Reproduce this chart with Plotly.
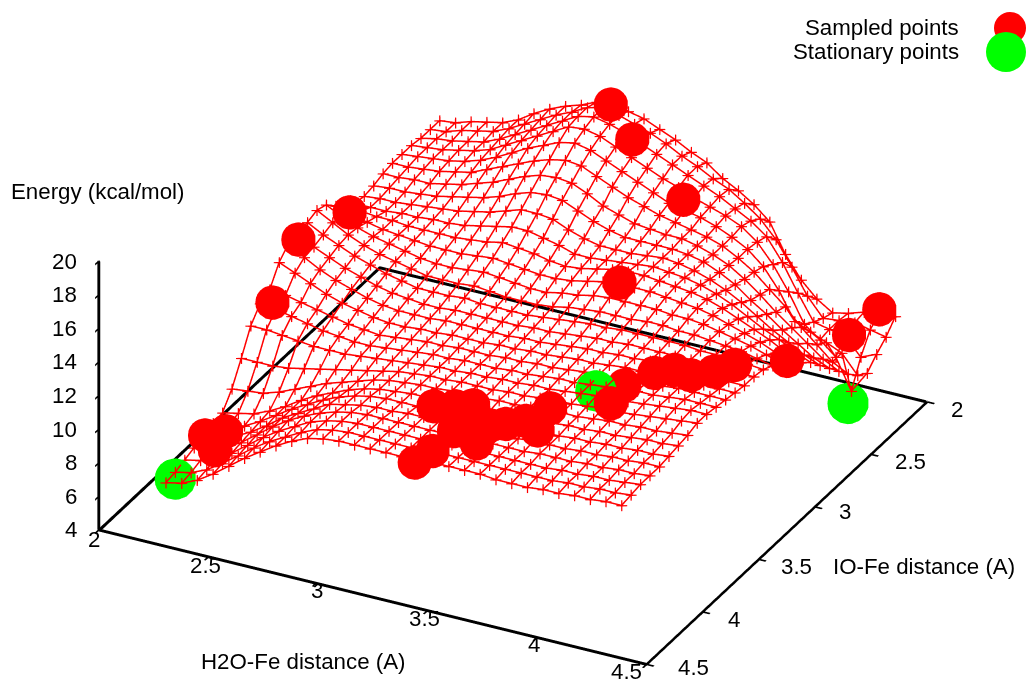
import plotly.graph_objects as go

grid_x = [2.28,2.352,2.423,2.495,2.567,2.639,2.710,2.782,2.854,2.926,2.997,3.069,3.141,3.212,3.284,3.356,3.428,3.499,3.571,3.643,3.714,3.786,3.858,3.930,4.001,4.073,4.145,4.217,4.288,4.36]
grid_y = [4.45,4.366,4.282,4.198,4.113,4.029,3.945,3.861,3.777,3.693,3.609,3.524,3.440,3.356,3.272,3.188,3.104,3.020,2.936,2.851,2.767,2.683,2.599,2.515,2.431,2.347,2.262,2.178,2.094,2.01]
energy = [
[7.4,7.6,8.0,8.6,9.3,10.0,10.6,11.2,11.7,12.1,12.3,12.4,12.4,12.4,12.4,12.4,12.4,12.5,12.5,12.5,12.5,12.4,12.4,12.4,12.5,12.5,12.6,12.6,12.7,12.7],
[7.5,7.7,8.1,8.7,9.4,10.1,10.7,11.2,11.7,12.1,12.3,12.4,12.4,12.4,12.4,12.4,12.4,12.5,12.5,12.5,12.5,12.5,12.5,12.5,12.5,12.6,12.6,12.7,12.7,12.8],
[7.7,7.9,8.3,8.8,9.5,10.2,10.8,11.3,11.8,12.1,12.3,12.4,12.4,12.4,12.4,12.4,12.4,12.5,12.5,12.5,12.5,12.5,12.5,12.5,12.6,12.6,12.7,12.7,12.8,12.9],
[7.9,8.1,8.4,8.9,9.6,10.3,10.9,11.4,11.8,12.1,12.3,12.4,12.4,12.4,12.4,12.4,12.4,12.5,12.5,12.5,12.5,12.5,12.6,12.6,12.6,12.7,12.7,12.8,12.8,12.9],
[8.1,8.2,8.5,9.0,9.6,10.3,10.8,11.3,11.8,12.0,12.2,12.3,12.3,12.4,12.4,12.4,12.4,12.4,12.5,12.5,12.5,12.6,12.6,12.6,12.7,12.7,12.8,12.8,12.9,12.9],
[8.3,8.4,8.6,9.1,9.7,10.3,10.8,11.3,11.7,12.0,12.2,12.3,12.3,12.3,12.4,12.4,12.4,12.4,12.5,12.5,12.5,12.6,12.6,12.7,12.7,12.8,12.8,12.9,12.9,13.0],
[8.4,8.6,8.8,9.2,9.7,10.3,10.8,11.2,11.6,11.9,12.1,12.2,12.3,12.3,12.4,12.4,12.4,12.4,12.5,12.5,12.6,12.6,12.7,12.7,12.8,12.8,12.9,13.0,13.0,13.1],
[9.3,9.4,9.5,9.8,10.2,10.6,11.0,11.3,11.6,11.9,12.1,12.2,12.3,12.3,12.4,12.4,12.4,12.5,12.5,12.6,12.6,12.7,12.7,12.8,12.9,12.9,13.0,13.0,13.1,13.2],
[10.6,10.6,10.6,10.7,10.9,11.1,11.3,11.5,11.7,11.9,12.1,12.2,12.3,12.3,12.4,12.4,12.4,12.5,12.5,12.6,12.7,12.7,12.8,12.9,12.9,13.0,13.1,13.2,13.3,13.4],
[12.0,12.0,11.9,11.8,11.7,11.7,11.7,11.8,11.9,12.0,12.1,12.2,12.3,12.3,12.4,12.4,12.5,12.5,12.6,12.6,12.7,12.8,12.9,12.9,13.0,13.1,13.2,13.3,13.4,13.4],
[12.8,12.7,12.5,12.3,12.1,12.0,11.9,11.9,12.0,12.1,12.2,12.3,12.3,12.4,12.4,12.4,12.5,12.5,12.6,12.7,12.7,12.8,12.9,13.0,13.1,13.1,13.2,13.3,13.3,13.3],
[13.1,13.0,12.8,12.6,12.4,12.2,12.1,12.0,12.1,12.2,12.3,12.3,12.4,12.4,12.4,12.5,12.5,12.6,12.6,12.7,12.8,12.9,12.9,13.0,13.1,13.1,13.2,13.2,13.2,13.2],
[14.2,13.8,13.4,13.0,12.7,12.5,12.3,12.2,12.2,12.3,12.3,12.4,12.4,12.4,12.5,12.5,12.6,12.6,12.7,12.8,12.8,12.9,13.0,13.0,13.1,13.1,13.1,13.1,13.1,13.1],
[14.8,14.2,13.7,13.3,13.0,12.7,12.5,12.4,12.4,12.4,12.5,12.5,12.5,12.5,12.5,12.6,12.6,12.7,12.8,12.9,12.9,13.0,13.0,13.1,13.1,13.1,13.1,13.1,13.0,13.0],
[14.8,14.3,13.9,13.5,13.2,12.9,12.7,12.6,12.5,12.5,12.6,12.6,12.6,12.6,12.6,12.7,12.7,12.8,12.9,13.0,13.0,13.1,13.1,13.1,13.1,13.1,13.1,13.1,13.0,13.0],
[15.0,14.5,14.1,13.7,13.4,13.1,12.9,12.7,12.7,12.7,12.8,12.7,12.7,12.7,12.7,12.8,12.9,13.0,13.1,13.1,13.2,13.2,13.2,13.2,13.2,13.1,13.1,13.0,13.0,12.9],
[15.2,14.7,14.2,13.8,13.5,13.3,13.1,12.9,12.9,12.9,13.0,12.9,12.8,12.8,12.8,12.9,13.1,13.2,13.3,13.3,13.3,13.4,13.4,13.3,13.3,13.2,13.1,13.0,12.8,12.6],
[15.0,14.5,14.1,13.8,13.6,13.4,13.2,13.1,13.1,13.2,13.3,13.2,13.1,13.0,13.0,13.2,13.3,13.5,13.6,13.6,13.6,13.6,13.5,13.5,13.4,13.2,13.0,12.8,12.5,12.2],
[14.4,14.1,13.9,13.7,13.6,13.5,13.4,13.4,13.4,13.5,13.6,13.5,13.4,13.3,13.3,13.4,13.6,13.8,13.9,13.9,13.9,13.8,13.7,13.6,13.4,13.1,12.8,12.5,12.1,11.7],
[13.9,13.8,13.7,13.7,13.6,13.6,13.6,13.6,13.7,13.8,14.0,13.9,13.8,13.6,13.5,13.6,13.8,14.0,14.1,14.1,14.0,13.9,13.8,13.6,13.3,12.9,12.5,12.1,11.6,11.2],
[13.5,13.5,13.5,13.6,13.6,13.7,13.7,13.8,14.0,14.2,14.4,14.4,14.2,14.0,13.7,13.7,13.8,13.9,14.0,14.1,14.0,13.9,13.7,13.4,13.0,12.5,12.0,11.6,11.1,10.7],
[13.4,13.5,13.5,13.6,13.7,13.8,13.9,14.1,14.3,14.6,14.9,14.9,14.8,14.4,14.1,13.9,13.9,13.9,14.0,14.1,14.0,13.8,13.5,13.1,12.6,12.0,11.4,10.9,10.4,10.0],
[13.5,13.6,13.6,13.7,13.8,14.0,14.2,14.4,14.7,15.1,15.4,15.5,15.4,15.0,14.6,14.3,14.1,14.1,14.1,14.1,14.0,13.8,13.4,12.9,12.2,11.6,10.9,10.3,9.7,9.3],
[13.7,13.7,13.8,13.8,14.0,14.2,14.5,14.8,15.2,15.6,15.9,16.0,15.9,15.5,15.0,14.7,14.4,14.3,14.2,14.2,14.0,13.7,13.3,12.7,12.0,11.2,10.5,9.8,9.1,8.6],
[13.8,13.8,13.9,14.0,14.2,14.4,14.8,15.2,15.6,16.0,16.3,16.5,16.4,16.0,15.6,15.2,14.9,14.6,14.4,14.2,14.0,13.7,13.2,12.6,11.8,11.0,10.0,9.2,8.4,7.9],
[13.8,13.9,14.0,14.1,14.3,14.6,15.0,15.5,16.0,16.4,16.8,17.0,16.8,16.4,16.0,15.6,15.2,14.8,14.6,14.4,14.1,13.7,13.2,12.4,11.2,9.6,9.2,8.8,8.4,7.3],
[13.8,13.9,14.0,14.2,14.4,14.7,15.2,15.7,16.2,16.7,17.2,17.3,17.1,16.7,16.3,15.9,15.5,15.2,14.8,14.5,14.2,13.8,13.1,12.0,10.6,8.9,8.2,7.4,5.6,6.9],
[13.7,13.9,14.0,14.2,14.4,14.8,15.3,15.8,16.3,16.8,17.3,17.5,17.3,17.0,16.6,16.2,15.8,15.4,15.0,14.6,14.1,13.6,12.9,11.6,10.0,8.5,8.3,8.1,7.1,7.5],
[13.7,13.8,14.1,14.3,14.5,14.9,15.4,15.9,16.4,16.8,17.3,17.5,17.3,17.0,16.7,16.3,15.8,15.4,14.9,14.5,13.9,13.2,12.2,10.8,9.3,8.2,8.3,8.4,8.2,8.0],
[13.7,13.8,14.1,14.3,14.5,14.9,15.5,16.0,16.4,16.7,17.1,17.4,17.0,16.8,16.4,16.0,15.5,15.1,14.4,13.9,13.3,12.5,10.8,9.5,8.6,8.0,8.2,8.5,8.7,8.7],
]
red_x = [3.43,3.45,3.28,3.36,3.42,3.45,3.45,3.58,3.56,3.61,3.67,3.75,3.71,3.91,3.89,3.95,4.01,4.09,4.16,4.21,4.35,4.28,4.29,3.58,3.26,3.08,3.54,2.31,2.39,2.33,2.34,2.40,2.40]
red_y = [4.48,4.36,4.02,3.98,3.94,4.10,4.17,4.22,4.06,4.02,3.96,4.01,3.82,3.67,3.51,3.36,3.30,3.31,3.24,3.15,2.96,2.27,2.02,2.38,2.21,2.05,2.87,3.33,3.03,3.60,4.22,4.15,4.25]
red_z = [12.5,12.5,12.5,12.5,12.5,12.5,12.5,12.5,12.5,12.5,12.5,12.5,12.5,12.5,12.5,12.5,12.5,12.5,12.5,12.5,12.0,9,9,15.5,17,17.5,13.5,15,15,13,9,9,8.5]
green_x = [2.27,3.80,4.28]
green_y = [4.35,3.59,2.28]
green_z = [7,12.4,5]
x_ticks = [2,2.5,3,3.5,4,4.5]
z_ticks = [4,6,8,10,12,14,16,18,20]
x_tick_text = ['2','2.5','3','3.5','4','4.5']
floor_x = [2.004,2.004,4.496]
floor_y = [4.496,2.004,2.004]
floor_z = [4.02,4.02,4.02]

mx,my,mz=[],[],[]
for j,row in enumerate(energy):
    mx+=grid_x+[None]; my+=[grid_y[j]]*30+[None]; mz+=row+[None]
for i in range(30):
    mx+=[grid_x[i]]*30+[None]; my+=grid_y+[None]; mz+=[r[i] for r in energy]+[None]

S=1.805
fig = go.Figure()
fig.add_trace(go.Scatter3d(x=green_x,y=green_y,z=green_z,mode='markers',marker=dict(size=24,color='#00ff00',line=dict(width=0)),showlegend=False))
fig.add_trace(go.Scatter3d(x=mx,y=my,z=mz,mode='lines+markers',line=dict(color='#ff0000',width=3),marker=dict(symbol='cross',size=6,color='#ff0000',line=dict(width=0)),showlegend=False))
fig.add_trace(go.Scatter3d(x=red_x,y=red_y,z=red_z,mode='markers',marker=dict(size=20,color='#ff0000',line=dict(width=0)),showlegend=False))
fig.add_trace(go.Scatter3d(x=floor_x,y=floor_y,z=floor_z,mode='lines',line=dict(color='black',width=6),showlegend=False,hoverinfo='skip'))
ax = dict(showbackground=False,showgrid=False,zeroline=False,showline=True,linecolor='black',linewidth=6,ticks='inside',ticklen=8,tickcolor='black',tickwidth=4,showspikes=False,title=dict(text=''),showticklabels=False)
W,H=1026,682
def X(p): return p/W
def Y(p): return 1-p/H
font=dict(family='Liberation Sans',size=22.3,color='black')
annotations=[]
for t,x,y,anc in [('Sampled points',961,28,'right'),('Stationary points',961,51,'right'),('Energy (kcal/mol)',97,192,'center'),('H2O-Fe distance (A)',303,661,'center'),('IO-Fe distance (A)',924,566,'center')]:
    annotations.append(dict(text=t,xref='paper',yref='paper',x=X(x),y=Y(y),xanchor=anc,yanchor='middle',showarrow=False,font=font))
shapes=[dict(type='circle',xref='paper',yref='paper',x0=X(1010-16),x1=X(1010+16),y0=Y(28+16),y1=Y(28-16),fillcolor='#ff0000',line=dict(width=0)),
        dict(type='circle',xref='paper',yref='paper',x0=X(1006-20),x1=X(1006+20),y0=Y(52+20),y1=Y(52-20),fillcolor='#00ff00',line=dict(width=0))]
scene_ann=[]
for v,t,dx,dy in zip(x_ticks,x_tick_text,[-5,-3,-1,-3,-3,-20],[10,9,7,8,7,7]):
    scene_ann.append(dict(x=v,y=4.5,z=4,text=t,showarrow=False,xshift=dx,yshift=-dy,font=font))
for v,t,dx,dy in zip(x_ticks,x_tick_text,[30,39,30,38,31,47],[8,7,5,7,8,3]):
    scene_ann.append(dict(x=4.5,y=v,z=4,text=t,showarrow=False,xshift=dx,yshift=-dy,font=font))
for v in z_ticks:
    scene_ann.append(dict(x=2,y=4.5,z=v,text=str(v),showarrow=False,xanchor='right',xshift=-20,font=font))
fig.update_layout(
    width=W,height=H,margin=dict(l=0,r=0,t=0,b=0),paper_bgcolor='white',showlegend=False,annotations=annotations,shapes=shapes,
    scene=dict(
        domain=dict(x=[0,1],y=[0,1]),
        aspectmode='manual',aspectratio=dict(x=S,y=S,z=0.4976*S),
        xaxis=dict(ax,range=[2,4.5],tickvals=x_ticks),
        yaxis=dict(ax,range=[4.5,2],tickvals=x_ticks),
        zaxis=dict(ax,range=[4,20],tickvals=z_ticks),
        annotations=scene_ann,
        camera=dict(projection=dict(type='orthographic'),eye=dict(x=0.8,y=-1.562,z=0.9263),up=dict(x=0,y=0,z=1),center=dict(x=0,y=0,z=-0.0317)),
    ))
fig.write_html("out.html",post_script="document.body.style.margin='0';",config=dict(displayModeBar=False))
